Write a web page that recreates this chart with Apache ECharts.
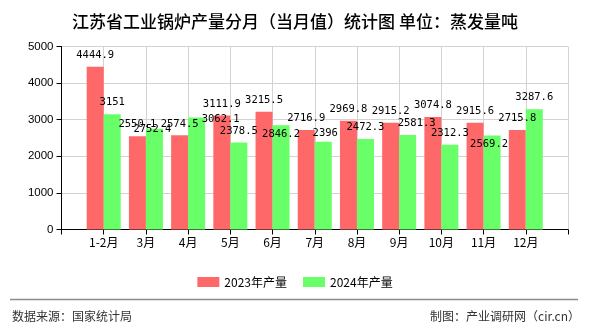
<!DOCTYPE html>
<html>
<head>
<meta charset="utf-8">
<script src="https://cdn.jsdelivr.net/npm/echarts@6/dist/echarts.min.js"></script>
<style>
html,body{margin:0;padding:0;background:#fff;}
#chart{width:590px;height:330px;}
</style>
</head>
<body>
<div id="chart"></div>
<script>
var categories = ['1-2月','3月','4月','5月','6月','7月','8月','9月','10月','11月','12月'];
var values2023 = [4444.9, 2550.1, 2574.5, 3111.9, 3215.5, 2716.9, 2969.8, 2915.2, 3074.8, 2915.6, 2715.8];
var values2024 = [3151, 2752.4, 3062.1, 2378.5, 2846.2, 2396, 2472.3, 2581.3, 2312.3, 2569.2, 3287.6];
var seriesNames = ['2023年产量', '2024年产量'];
var yTicks = [0, 1000, 2000, 3000, 4000, 5000];
// label nudges (layout only) for the 2024 series, as in the reference
var labelShift2024 = [[0,0],[-2,12],[24,13],[0,0],[0,20],[2,3],[0,0],[9,0],[0,0],[-3,20],[0,0]];

var axisCats = [''].concat(categories).concat(['']);
function pad(arr, shifts){
  var out = [null];
  arr.forEach(function(v,i){
    if (shifts && (shifts[i][0] || shifts[i][1])) {
      out.push({value: v, label: {offset: shifts[i]}});
    } else out.push(v);
  });
  out.push(null);
  return out;
}
var labelFont = {show:true, position:'top', distance:6, color:'#000', fontSize:10.5, fontFamily:'"DejaVu Sans Mono", monospace'};

var chart = echarts.init(document.getElementById('chart'), null, {renderer:'canvas'});
chart.setOption({
  animation: false,
  backgroundColor: '#fff',
  title: {
    text: '江苏省工业锅炉产量分月（当月值）统计图 单位：蒸发量吨',
    left: 'center', top: 8,
    textStyle: {fontSize: 17, fontWeight: 500, color: '#000', fontFamily: '"Noto Sans CJK SC", sans-serif'}
  },
  legend: {
    data: seriesNames,
    left: 'center', top: 271,
    itemWidth: 22, itemHeight: 10, itemGap: 16,
    icon: 'rect',
    textStyle: {fontSize: 12, color: '#000', fontFamily: '"Noto Sans CJK SC", sans-serif'}
  },
  grid: {left: 61.5, right: 22, top: 46.5, bottom: 100.5, containLabel: false},
  xAxis: {
    type: 'category',
    data: axisCats,
    boundaryGap: false,
    axisLine: {lineStyle: {color: '#000', width: 1}},
    axisTick: {show: true, length: 5, interval: 0, lineStyle: {color: '#000'}},
    axisLabel: {interval: 0, fontSize: 12, color: '#000', margin: 7, fontFamily: '"Noto Sans CJK SC", sans-serif'},
    splitLine: {show: true, interval: 0, lineStyle: {color: '#d3d3d3'}}
  },
  yAxis: {
    type: 'value',
    min: yTicks[0], max: yTicks[yTicks.length-1], interval: 1000,
    axisLine: {show: true, lineStyle: {color: '#000'}},
    axisTick: {show: true, length: 5, lineStyle: {color: '#000'}},
    axisLabel: {fontSize: 11.5, color: '#000', margin: 8, fontFamily: 'Arial, "Liberation Sans", sans-serif',
      formatter: function(v){ return String(v); }},
    splitLine: {show: true, lineStyle: {color: '#d3d3d3'}}
  },
  series: [
    {name: seriesNames[0], type: 'bar', data: pad(values2023), barWidth: 17, barGap: '0%',
     itemStyle: {color: '#ff6868'}, label: labelFont},
    {name: seriesNames[1], type: 'bar', data: pad(values2024, labelShift2024), barWidth: 17, barGap: '0%',
     itemStyle: {color: '#68ff68'}, label: labelFont}
  ],
  graphic: [
    {type: 'line', shape: {x1: 10, y1: 299.5, x2: 578, y2: 299.5}, style: {stroke: '#8c8c8c', lineWidth: 1.5}},
    {type: 'text', left: 12, top: 310, style: {text: '数据来源：国家统计局', fill: '#333', font: '12px "Noto Sans CJK SC", sans-serif'}},
    {type: 'text', right: 10, top: 310, style: {text: '制图：产业调研网（cir.cn）', fill: '#333', font: '12px "Noto Sans CJK SC", sans-serif'}}
  ]
});
</script>
</body>
</html>
